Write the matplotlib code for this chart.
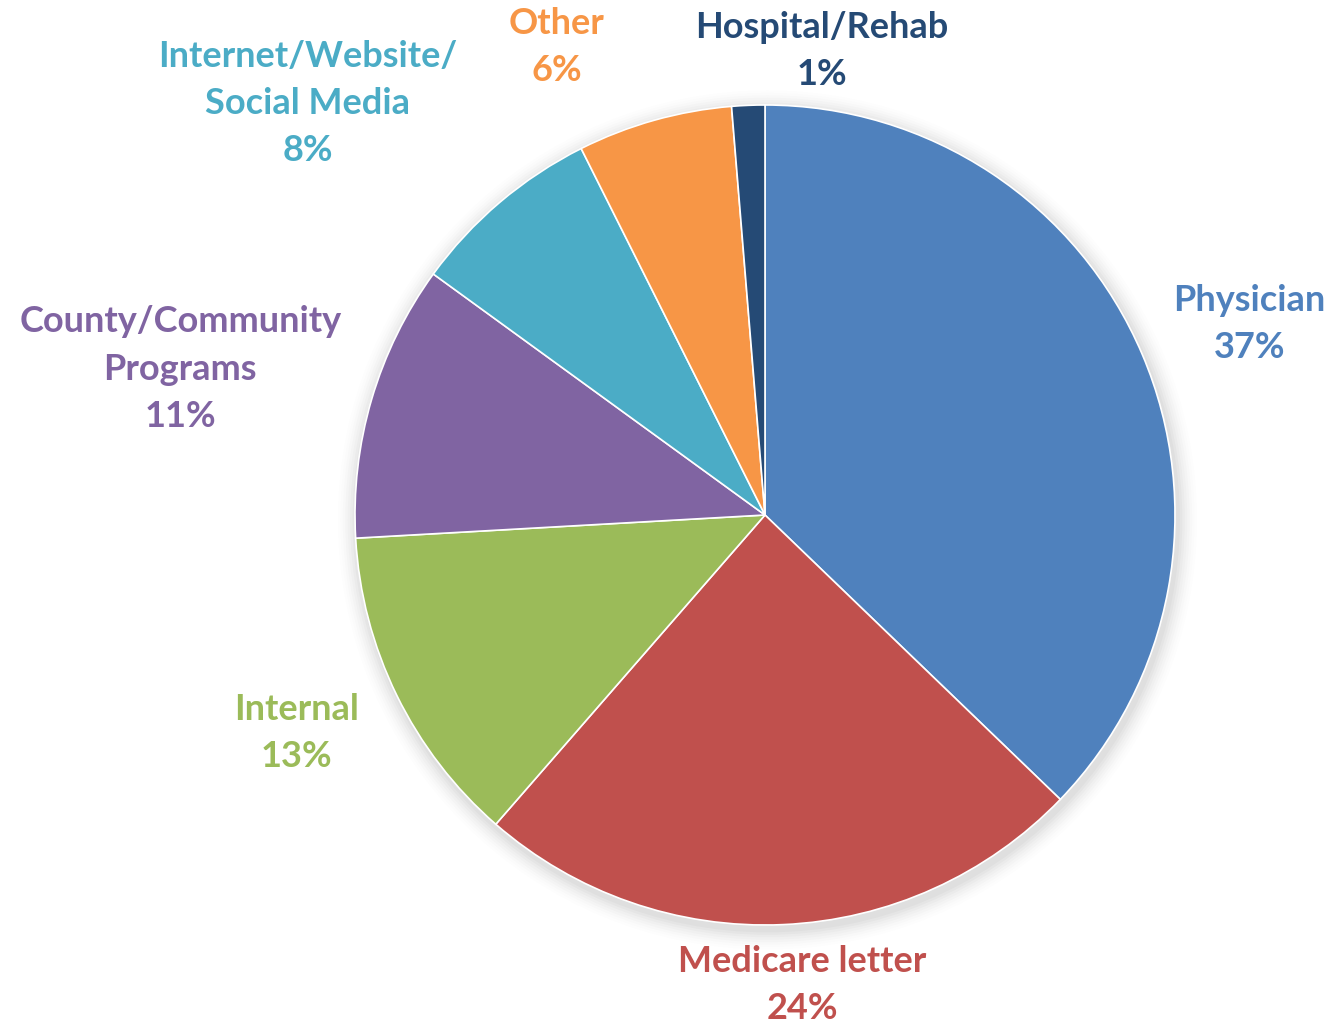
import matplotlib
matplotlib.use("Agg")
import matplotlib.pyplot as plt
import numpy as np

categories = ["Physician", "Medicare letter", "Internal", "County/Community\nPrograms",
              "Internet/Website/\nSocial Media", "Other", "Hospital/Rehab"]
values = [37.2, 24.2, 12.7, 10.9, 7.6, 6.1, 1.3]
colors = ["#4F81BD", "#C0504D", "#9BBB59", "#8064A2", "#4BACC6", "#F79646", "#254A75"]
label_colors = ["#4F81BD", "#C0504D", "#9BBB59", "#8064A2", "#4BACC6", "#F79646", "#254A75"]

# label placement (angle in degrees, distance in radii)
label_pos = [(21.5, 1.27), (-85.5, 1.15), (-155.0, 1.26), (166.0, 1.47),
             (138.0, 1.50), (114.0, 1.25), (83.0, 1.14)]

W, H = 1332, 1024
fig = plt.figure(figsize=(W / 100, H / 100), dpi=100)
ax = fig.add_axes([0, 0, 1, 1])
cx, cy, R = 765, 515, 410

# soft shadow
for i, a in enumerate(np.linspace(0.025, 0.006, 8)):
    circ = plt.Circle((0.006, -0.012), 1.0 + 0.006 * (i + 1), color="black", alpha=a, lw=0, zorder=0)
    ax.add_patch(circ)

ax.pie(values, colors=colors, startangle=90, counterclock=False,
       wedgeprops=dict(edgecolor="white", linewidth=1.2), radius=1.0)

for cat, v, c, (ang, d) in zip(categories, values, label_colors, label_pos):
    t = np.deg2rad(ang)
    ax.text(d * np.cos(t), d * np.sin(t), f"{cat}\n{v:.0f}%", ha="center", va="center",
            color=c, fontsize=26, fontweight="bold", family="Lato", linespacing=1.53)

ax.set_aspect("auto")
ax.set_xlim(-cx / R, (W - cx) / R)
ax.set_ylim(-(H - cy) / R, cy / R)
ax.axis("off")
fig.savefig("out.png", dpi=100)
